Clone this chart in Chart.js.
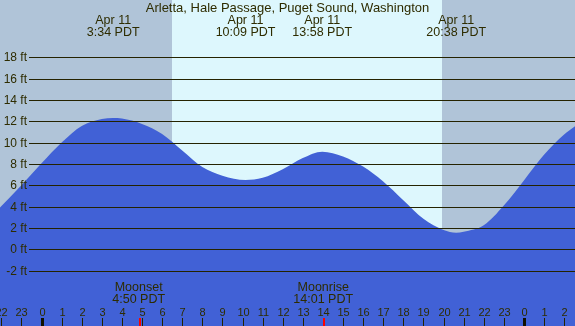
<!DOCTYPE html>
<html>
<head>
<meta charset="utf-8">
<script src="https://cdn.jsdelivr.net/npm/chart.js@4/dist/chart.umd.min.js"></script>
<style>
html,body{margin:0;padding:0;background:#b0c4d8;}
canvas{display:block;}
</style>
</head>
<body>
<canvas id="c" width="575" height="326"></canvas>
<script>
const chartTitle = "Arletta, Hale Passage, Puget Sound, Washington";
// tide curve (hours from local midnight Apr 11, feet)
const tideHours = [-2.07, -1, 0, 1, 2, 3, 3.56, 4, 5, 6, 7, 8, 9, 10.15, 11, 12, 13, 13.97, 15, 16, 17, 18, 19, 20, 20.63, 21, 22, 23, 24, 25, 26, 26.6];
const tideFeet  = [3.9, 6.0, 8.05, 10.0, 11.55, 12.2, 12.3, 12.25, 11.75, 10.8, 9.25, 7.7, 6.9, 6.5, 6.7, 7.5, 8.55, 9.15, 8.7, 7.75, 6.35, 4.6, 2.85, 1.8, 1.56, 1.65, 2.25, 4.1, 6.45, 8.85, 10.75, 11.6];
// tide extremes
const extremeHours  = [3.567, 10.15, 13.967, 20.633];
const extremeDates  = ["Apr 11", "Apr 11", "Apr 11", "Apr 11"];
const extremeTimes  = ["3:34 PDT", "10:09 PDT", "13:58 PDT", "20:38 PDT"];
// moon events
const moonHours  = [4.833, 14.017];
const moonNames  = ["Moonset", "Moonrise"];
const moonTimes  = ["4:50 PDT", "14:01 PDT"];
// sun
const sunriseHour = 6.48;
const sunsetHour  = 19.93;
// axes
const yTickValues = [-2, 0, 2, 4, 6, 8, 10, 12, 14, 16, 18];
const yTickLabels = ["-2 ft", "0 ft", "2 ft", "4 ft", "6 ft", "8 ft", "10 ft", "12 ft", "14 ft", "16 ft", "18 ft"];
const hourTickValues = [-2, -1, 0, 1, 2, 3, 4, 5, 6, 7, 8, 9, 10, 11, 12, 13, 14, 15, 16, 17, 18, 19, 20, 21, 22, 23, 24, 25, 26];
const hourTickLabels = ["22", "23", "0", "1", "2", "3", "4", "5", "6", "7", "8", "9", "10", "11", "12", "13", "14", "15", "16", "17", "18", "19", "20", "21", "22", "23", "0", "1", "2"];
const midnightHours = [0, 24];

const NIGHT = "#b0c4d8", DAY = "#ddf7fd", WATER = "#4161d6", INK = "#2e2c00", LINE = "#252300";
const FAM = "'Liberation Sans', Arial, sans-serif";

const decor = {
  id: "decor",
  beforeDatasetsDraw(chart) {
    const ctx = chart.ctx, xs = chart.scales.x, a = chart.chartArea;
    ctx.save();
    ctx.fillStyle = NIGHT;
    ctx.fillRect(a.left, a.top, a.right - a.left, a.bottom - a.top);
    const x1 = Math.round(xs.getPixelForValue(sunriseHour));
    const x2 = Math.round(xs.getPixelForValue(sunsetHour));
    ctx.fillStyle = DAY;
    ctx.fillRect(x1, a.top, x2 - x1, a.bottom - a.top);
    ctx.restore();
  },
  afterDatasetsDraw(chart) {
    const ctx = chart.ctx, xs = chart.scales.x, ys = chart.scales.y, a = chart.chartArea;
    ctx.save();
    ctx.font = "12px " + FAM;
    ctx.textBaseline = "middle";
    ctx.textAlign = "right";
    yTickValues.forEach((v, i) => {
      const y = Math.round(ys.getPixelForValue(v)) + 0.5;
      ctx.strokeStyle = LINE; ctx.lineWidth = 1;
      ctx.beginPath(); ctx.moveTo(29, y); ctx.lineTo(a.right, y); ctx.stroke();
      ctx.fillStyle = INK;
      ctx.fillText(yTickLabels[i], 27, y);
    });
    ctx.textAlign = "center";
    ctx.textBaseline = "alphabetic";
    ctx.font = "13px " + FAM;
    ctx.fillText(chartTitle, (a.left + a.right) / 2, 12);
    ctx.font = "12.5px " + FAM;
    extremeHours.forEach((h, i) => {
      const x = xs.getPixelForValue(h);
      ctx.fillText(extremeDates[i], x, 24);
      ctx.fillText(extremeTimes[i], x, 36);
    });
    moonHours.forEach((h, i) => {
      const x = xs.getPixelForValue(h);
      ctx.fillText(moonNames[i], x, 291);
      ctx.fillText(moonTimes[i], x, 303);
    });
    ctx.font = "11px " + FAM;
    hourTickValues.forEach((h, i) => {
      const x = Math.round(xs.getPixelForValue(h));
      ctx.fillStyle = INK;
      ctx.fillText(hourTickLabels[i], x + 0.5, 316);
      ctx.fillStyle = LINE;
      ctx.fillRect(x, 318, 1, 8);
    });
    midnightHours.forEach(h => {
      const x = Math.round(xs.getPixelForValue(h));
      ctx.fillStyle = "#111100";
      ctx.fillRect(x - 1, 318, 3, 8);
    });
    moonHours.forEach(h => {
      const x = Math.round(xs.getPixelForValue(h));
      ctx.fillStyle = "#ff0000";
      ctx.fillRect(x, 318, 2, 8);
    });
    ctx.restore();
  }
};

new Chart(document.getElementById("c"), {
  type: "line",
  data: {
    datasets: [{
      data: tideHours.map((h, i) => ({ x: h, y: tideFeet[i] })),
      borderWidth: 0,
      borderColor: WATER,
      backgroundColor: WATER,
      fill: "start",
      pointRadius: 0,
      cubicInterpolationMode: "monotone"
    }]
  },
  options: {
    responsive: false,
    animation: false,
    layout: { padding: 0 },
    plugins: { legend: { display: false }, tooltip: { enabled: false }, title: { display: false } },
    scales: {
      x: { type: "linear", min: -2.065, max: 26.542, display: false },
      y: { type: "linear", min: -7.19, max: 23.36, display: false }
    }
  },
  plugins: [decor]
});
</script>
</body>
</html>
